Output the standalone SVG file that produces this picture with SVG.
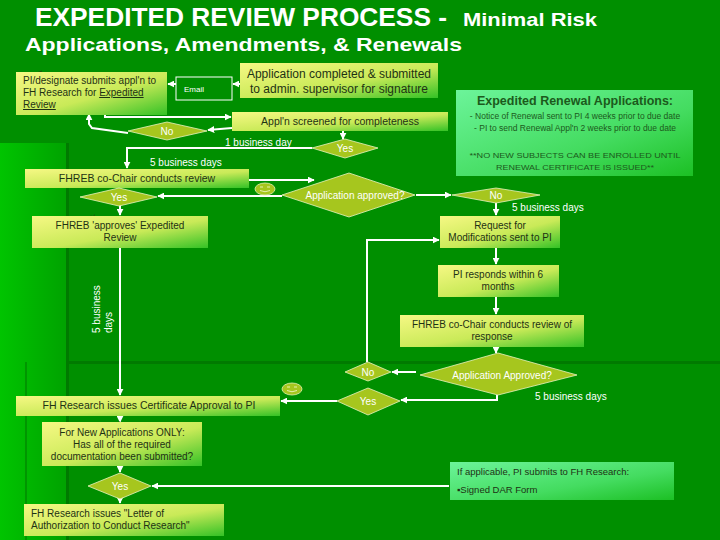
<svg xmlns="http://www.w3.org/2000/svg" width="720" height="540" viewBox="0 0 720 540">
<defs>
<linearGradient id="gBox" x1="0" y1="0" x2="1" y2="1">
<stop offset="0" stop-color="#f6f884"/>
<stop offset="0.55" stop-color="#c9ea58"/>
<stop offset="1" stop-color="#34c226"/>
</linearGradient>
<linearGradient id="gNote" x1="0" y1="0" x2="1" y2="1">
<stop offset="0" stop-color="#6cf49a"/>
<stop offset="0.6" stop-color="#44dc60"/>
<stop offset="1" stop-color="#1cc024"/>
</linearGradient>
<linearGradient id="gLeft" x1="0" y1="0" x2="1" y2="0">
<stop offset="0" stop-color="#00c400"/>
<stop offset="1" stop-color="#00a200"/>
</linearGradient>
<marker id="arr" viewBox="0 0 10 10" refX="9" refY="5" markerWidth="7" markerHeight="7" markerUnits="userSpaceOnUse" orient="auto">
<path d="M0,0 L10,5 L0,10 z" fill="#ffffff"/>
</marker>
<g id="smiley">
<ellipse cx="0" cy="0" rx="10" ry="6" fill="#a6c61e" stroke="#e6f0b0" stroke-width="0.8"/>
<line x1="-5" y1="-2" x2="-2" y2="-2" stroke="#e6f0b0" stroke-width="1"/>
<line x1="2" y1="-2" x2="5" y2="-2" stroke="#e6f0b0" stroke-width="1"/>
<path d="M-5,1.5 Q0,4 5,1.5" fill="none" stroke="#e6f0b0" stroke-width="1"/>
</g>
</defs>
<style>
.box{fill:url(#gBox);}
.note{fill:url(#gNote);}
.dia{fill:#a6c61e;stroke:#e8f2c0;stroke-width:0.8;}
.t{font-family:"Liberation Sans",Arial,sans-serif;font-size:10px;fill:#1e3214;}
.c{text-anchor:middle;}
.w{font-family:"Liberation Sans",Arial,sans-serif;font-size:10px;fill:#ffffff;}
.n{font-family:"Liberation Sans",Arial,sans-serif;font-size:8.5px;fill:#1c5a1c;}
.con{fill:none;stroke:#ffffff;stroke-width:2;marker-end:url(#arr);}
.dot{fill:none;stroke:#2a3a10;stroke-width:0.8;stroke-dasharray:1.5 2;}
</style>
<rect x="0" y="0" width="720" height="540" fill="#008f00"/>
<rect x="0" y="143" width="67" height="397" fill="url(#gLeft)"/>
<rect x="66" y="143" width="3" height="397" fill="#007a00"/>
<rect x="67" y="361" width="653" height="3" fill="#007a00"/>
<rect x="25" y="362" width="2" height="178" fill="#009600"/>

<g id="title" font-family="'Liberation Sans',Arial,sans-serif" font-weight="bold" fill="#ffffff">
<text x="35" y="26" font-size="25" textLength="412" lengthAdjust="spacingAndGlyphs">EXPEDITED REVIEW PROCESS -</text>
<text x="463" y="26" font-size="19" textLength="134" lengthAdjust="spacingAndGlyphs">Minimal Risk</text>
<text x="25" y="51" font-size="19" textLength="437" lengthAdjust="spacingAndGlyphs">Applications, Amendments, &amp; Renewals</text>
</g>

<g id="connectors">
<path class="con" d="M240,84 L233,84"/>
<path class="con" d="M176,84 L168,84"/>
<path class="con" d="M105,115 L105,117 L231,117"/>
<path class="con" d="M232,128 L208,130"/>
<path class="con" d="M128,133 L92,128 L89,124 L89,114"/>
<path class="con" d="M343,131 L343,139"/>
<path class="con" d="M312,148 L127,148 L127,168"/>
<path class="con" d="M249,180 L314,180"/>
<path class="con" d="M282,196 L158,196"/>
<path class="con" d="M416,195 L451,195"/>
<path class="con" d="M496,203 L496,215"/>
<path class="con" d="M120,205 L120,215"/>
<path class="con" d="M496,248 L496,264"/>
<path class="con" d="M496,297 L496,314"/>
<path class="con" d="M496,347 L496,353"/>
<path class="con" d="M416,372 L392,372"/>
<path class="con" d="M367,362 L367,240 L439,240"/>
<path class="con" d="M497,395 L497,400 L401,400"/>
<path class="con" d="M337,401 L281,401"/>
<path class="con" d="M120,248 L120,395"/>
<path class="con" d="M120,416 L120,422"/>
<path class="con" d="M120,466 L120,472"/>
<path class="con" d="M449,486 L152,486"/>
<path class="con" d="M120,499 L120,503"/>
<path class="dot" d="M32,227 L55,226 L95,215"/>
<path class="dot" d="M560,222 L508,236"/>
<path class="dot" d="M455,265 L464,296"/>
<path class="dot" d="M402,318 L440,315"/>
<path class="dot" d="M486,315 L486,347"/>
<path class="dot" d="M42,446 L122,421"/>
<path d="M18,80 L42,71" fill="none" stroke="#2a3a10" stroke-width="0.8"/>
</g>

<g id="lbl-days" class="w">
<text x="225" y="146">1 business day</text>
<text x="150" y="166">5 business days</text>
<text x="512" y="211">5 business days</text>
<text x="535" y="400">5 business days</text>
<text transform="translate(100,333) rotate(-90)">5 business</text>
<text transform="translate(112,333) rotate(-90)">days</text>
</g>

<g id="n-pi-submit">
<rect class="box" x="16" y="72" width="151" height="43"/>
<text class="t" x="23" y="84">PI/designate submits appl'n to</text>
<text class="t" x="23" y="96">FH Research for <tspan text-decoration="underline">Expedited</tspan></text>
<text class="t" x="23" y="108" text-decoration="underline">Review</text>
</g>
<g id="n-email">
<rect x="176" y="77" width="56" height="23" fill="#008f00" stroke="#ffffff" stroke-width="1"/>
<text x="184" y="92" font-family="'Liberation Sans',Arial,sans-serif" font-size="8" fill="#ffffff">Email</text>
</g>
<g id="n-app-completed">
<rect class="box" x="240" y="63" width="198" height="35"/>
<text class="t c" x="339" y="78" style="font-size:12px">Application completed &amp; submitted</text>
<text class="t c" x="339" y="93" style="font-size:12px">to admin. supervisor for signature</text>
</g>
<g id="n-screened">
<rect class="box" x="232" y="112" width="216" height="19"/>
<text class="t c" x="340" y="125" style="font-size:10.5px">Appl'n screened for completeness</text>
</g>
<g id="d-no1">
<polygon class="dia" points="128,131 167,122 207,131 167,140"/>
<text class="w c" x="167" y="135">No</text>
</g>
<g id="d-yes1">
<polygon class="dia" points="312,148 345,139 378,148 345,158"/>
<text class="w c" x="345" y="152">Yes</text>
</g>
<g id="n-renewal">
<rect class="note" x="456" y="90" width="237" height="86"/>
<text class="n c" x="575" y="105" style="font-size:12.5px;font-weight:bold">Expedited Renewal Applications:</text>
<text class="n c" x="575" y="119">- Notice of Renewal sent to PI 4 weeks prior to due date</text>
<text class="n c" x="575" y="131">- PI to send Renewal Appl'n 2 weeks prior to due date</text>
<text class="n c" x="575" y="158" style="font-size:7.5px" textLength="211" lengthAdjust="spacingAndGlyphs">**NO NEW SUBJECTS CAN BE ENROLLED UNTIL</text>
<text class="n c" x="575" y="170" style="font-size:7.5px" textLength="158" lengthAdjust="spacingAndGlyphs">RENEWAL CERTIFICATE IS ISSUED**</text>
</g>
<g id="n-fhreb-review">
<rect class="box" x="25" y="169" width="224" height="19"/>
<text class="t c" x="137" y="182" style="font-size:10.5px">FHREB co-Chair conducts review</text>
</g>
<g id="smiley1"><use href="#smiley" x="265" y="189"/></g>
<g id="d-app-approved">
<polygon class="dia" points="282,195 349,173 415,195 349,217"/>
<text class="w c" x="355" y="199">Application approved?</text>
</g>
<g id="d-yes2">
<polygon class="dia" points="80,197 119,188 157,197 119,206"/>
<text class="w c" x="119" y="201">Yes</text>
</g>
<g id="d-no2">
<polygon class="dia" points="452,195 496,188 540,195 496,203"/>
<text class="w c" x="496" y="199">No</text>
</g>
<g id="n-fhreb-approves">
<rect class="box" x="32" y="216" width="176" height="32"/>
<text class="t c" x="120" y="229">FHREB 'approves' Expedited</text>
<text class="t c" x="120" y="241">Review</text>
</g>
<g id="n-request">
<rect class="box" x="440" y="216" width="120" height="32"/>
<text class="t c" x="500" y="229">Request for</text>
<text class="t c" x="500" y="241">Modifications sent to PI</text>
</g>
<g id="n-pi-responds">
<rect class="box" x="438" y="265" width="121" height="32"/>
<text class="t c" x="498" y="278">PI responds within 6</text>
<text class="t c" x="498" y="290">months</text>
</g>
<g id="n-fhreb-response">
<rect class="box" x="400" y="315" width="184" height="32"/>
<text class="t c" x="492" y="328">FHREB co-Chair conducts review of</text>
<text class="t c" x="492" y="340">response</text>
</g>
<g id="d-app-approved2">
<polygon class="dia" points="420,375 498,353 577,375 498,395"/>
<text class="w c" x="502" y="379">Application Approved?</text>
</g>
<g id="d-no3">
<polygon class="dia" points="345,372 368,362 391,372 368,381"/>
<text class="w c" x="368" y="376">No</text>
</g>
<g id="d-yes3">
<polygon class="dia" points="337,401 368,388 400,401 368,415"/>
<text class="w c" x="368" y="405">Yes</text>
</g>
<g id="smiley2"><use href="#smiley" x="292" y="389"/></g>
<g id="n-certificate">
<rect class="box" x="16" y="396" width="264" height="20"/>
<text class="t c" x="149" y="409" style="font-size:10.5px">FH Research issues Certificate Approval to PI</text>
</g>
<g id="n-new-apps">
<rect class="box" x="42" y="422" width="160" height="44"/>
<text class="t c" x="122" y="436">For New Applications ONLY:</text>
<text class="t c" x="122" y="448">Has all of the required</text>
<text class="t c" x="122" y="460">documentation been submitted?</text>
</g>
<g id="d-yes4">
<polygon class="dia" points="88,486 120,473 151,486 120,499"/>
<text class="w c" x="120" y="490">Yes</text>
</g>
<g id="n-letter">
<rect class="box" x="24" y="504" width="200" height="32"/>
<text class="t" x="31" y="517">FH Research issues "Letter of</text>
<text class="t" x="31" y="529">Authorization to Conduct Research"</text>
</g>
<g id="n-dar">
<rect class="note" x="450" y="462" width="224" height="38"/>
<text class="t" x="457" y="475" style="font-size:9.5px">If applicable, PI submits to FH Research:</text>
<text class="t" x="457" y="493" style="font-size:9.5px">▪Signed DAR Form</text>
</g>
</svg>
